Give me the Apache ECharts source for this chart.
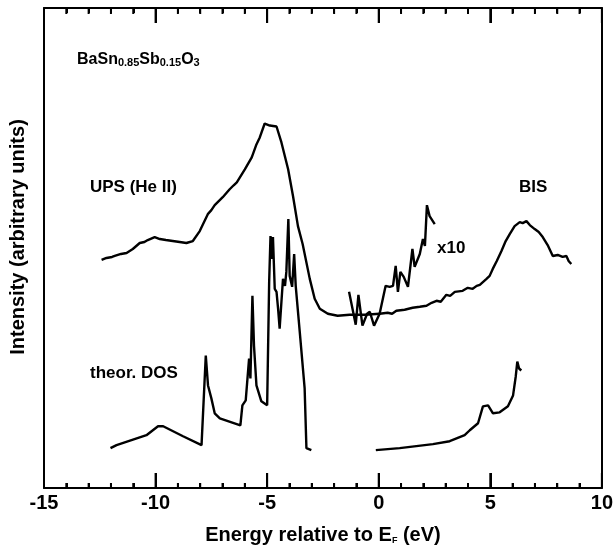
<!DOCTYPE html>
<html>
<head>
<meta charset="utf-8">
<script src="https://cdn.jsdelivr.net/npm/echarts@6/dist/echarts.min.js"></script>
<style>
  html, body { margin: 0; padding: 0; background: #fff; }
  #chart { width: 616px; height: 550px; }
</style>
</head>
<body>
<div id="chart"></div>
<script>
// energies in eV, intensities in arbitrary units (0 = bottom of frame)
const upsEnergy = [-12.42, -12.2, -11.95, -11.83, -11.55, -11.3, -11.02, -10.71, -10.5, -10.35, -10.04, -9.81, -9.54, -9.23, -8.92, -8.62, -8.33,
  -8.02, -7.66, -7.5, -7.35, -6.99, -6.68, -6.5, -6.36, -6.0, -5.69, -5.48, -5.33, -5.11, -4.88, -4.58, -4.36, -4.06, -3.84,
  -3.62, -3.41, -3.09, -2.87, -2.64, -2.28, -1.84, -1.3, -0.63, 0.04];
const upsValue = [229, 231, 232, 233, 235, 236, 240, 246, 247, 249, 252, 250, 249, 248, 247, 246, 248,
  258, 275, 279, 284, 292, 300, 304, 307, 320, 332, 345, 352, 366, 364, 363, 347, 320, 293,
  263, 245, 210, 190, 180, 175, 173, 174, 174, 175];

const bisEnergy = [0.04, 0.4, 0.6, 0.79, 1.16, 1.52, 1.84, 2.14, 2.37, 2.59, 2.78, 3.03, 3.2, 3.41, 3.76, 3.99, 4.21, 4.39, 4.53, 4.83,
  4.97, 5.11, 5.29, 5.5, 5.69, 5.87, 6.09, 6.32, 6.45, 6.62, 6.77, 6.99, 7.17, 7.35, 7.57, 7.8, 8.02, 8.24, 8.41, 8.51, 8.63];
const bisValue = [175, 176, 175, 178, 179, 181, 182, 183, 186, 188, 187, 194, 193, 197, 198, 201, 200, 203, 204, 210,
  213, 220, 228, 238, 248, 255, 263, 267, 266, 268, 264, 260, 257, 252, 244, 233, 234, 232, 233, 228, 225];

const bis10Energy = [-1.33, -1.03, -0.91, -0.73, -0.52, -0.4, -0.21, 0.04, 0.31, 0.49, 0.64, 0.76, 0.86, 0.97, 1.12, 1.31, 1.51, 1.61,
  1.84, 1.98, 2.07, 2.16, 2.28, 2.51];
const bis10Value = [197, 164, 194, 163, 175, 177, 163, 175, 203, 202, 203, 223, 197, 217, 212, 202, 240, 222,
  235, 250, 243, 284, 273, 265];

const dosVbEnergy = [-12.02, -11.75, -10.41, -9.89, -9.66, -8.77, -7.94, -7.75, -7.65, -7.5, -7.35, -7.12, -6.2, -6.11, -5.96, -5.81, -5.75,
  -5.66, -5.59, -5.48, -5.26, -5.0, -4.91, -4.85, -4.79, -4.74, -4.66, -4.58, -4.51, -4.44, -4.36, -4.29, -4.2, -4.14, -4.05,
  -3.99, -3.88, -3.79, -3.72, -3.54, -3.32, -3.24, -3.02];
const dosVbValue = [40, 43, 53, 62, 62, 52, 43, 133, 103, 90, 75, 70, 63, 83, 88, 130, 110,
  193, 143, 103, 87, 83, 207, 253, 230, 252, 200, 197, 180, 160, 187, 210, 203, 217, 270,
  213, 202, 235, 203, 157, 100, 40, 38];

const dosCbEnergy = [-0.13, 0.94, 2.43, 3.18, 3.85, 4.08, 4.45, 4.67, 4.9, 5.12, 5.42, 5.79, 6.02, 6.14, 6.21, 6.29, 6.39];
const dosCbValue = [38, 40, 44, 47, 53, 58, 65, 82, 83, 75, 76, 82, 93, 112, 127, 120, 118];

const xTicks = [-15, -10, -5, 0, 5, 10];
const xMinorTicks = [-15, -14, -13, -12, -11, -10, -9, -8, -7, -6, -5, -4, -3, -2, -1,
  0, 1, 2, 3, 4, 5, 6, 7, 8, 9, 10];

const Y_MAX = 482;
const FONT = '"Liberation Sans", Arial, sans-serif';

function pairs(xs, ys) {
    return xs.map((x, i) => [x, ys[i]]);
}

function lineSeries(xs, ys) {
    return {
        type: 'line',
        data: pairs(xs, ys),
        symbol: 'none',
        z: 3,
        lineStyle: { color: '#000', width: 2.4 }
    };
}

function frameX(pos) {
    return {
        type: 'value', min: xTicks[0], max: xTicks[xTicks.length - 1], interval: 5, position: pos, z: 10,
        axisLine: { show: true, onZero: false, lineStyle: { color: '#000', width: 2 } },
        axisTick: { show: true, inside: true, length: 15, lineStyle: { color: '#000', width: 2 } },
        minorTick: { show: true, splitNumber: 5, length: 5, lineStyle: { color: '#000', width: 2 } },
        axisLabel: { show: false },
        splitLine: { show: false }
    };
}

function frameY(pos) {
    return {
        type: 'value', min: 0, max: Y_MAX, position: pos,
        axisLine: { show: true, onZero: false, lineStyle: { color: '#000', width: 2 } },
        axisTick: { show: false }, axisLabel: { show: false }, splitLine: { show: false }
    };
}

let bottomAxis = frameX('bottom');
bottomAxis.axisLabel = { show: true, color: '#000', fontFamily: FONT, fontWeight: 'bold', fontSize: 20, margin: 5 };
bottomAxis.name = 'Energy relative to E{sub|F} (eV)';
bottomAxis.nameLocation = 'middle';
bottomAxis.nameGap = 37;
bottomAxis.nameTextStyle = {
    color: '#000', fontFamily: FONT, fontWeight: 'bold', fontSize: 20,
    rich: {
        sub: { fontFamily: FONT, fontWeight: 'bold', fontSize: 9, color: '#000', verticalAlign: 'bottom', lineHeight: 6 }
    }
};

const textGraphics = [
    {
        type: 'text', x: 18, y: 237, rotation: Math.PI / 2,
        style: { text: 'Intensity (arbitrary units)', fill: '#000', font: 'bold 20px ' + FONT, align: 'center', verticalAlign: 'middle' }
    },
    {
        type: 'text', x: 77, y: 52,
        style: {
            text: '{b|BaSn}{s|0.85}{b|Sb}{s|0.15}{b|O}{s|3}',
            fill: '#000',
            align: 'left', verticalAlign: 'top',
            rich: {
                b: { font: 'bold 16px ' + FONT, fill: '#000', verticalAlign: 'top', lineHeight: 16 },
                s: { font: 'bold 11px ' + FONT, fill: '#000', verticalAlign: 'bottom', lineHeight: 5 }
            }
        }
    },
    { type: 'text', x: 90, y: 187, style: { text: 'UPS (He II)', fill: '#000', font: 'bold 17px ' + FONT, align: 'left', verticalAlign: 'middle' } },
    { type: 'text', x: 519, y: 187, style: { text: 'BIS', fill: '#000', font: 'bold 17px ' + FONT, align: 'left', verticalAlign: 'middle' } },
    { type: 'text', x: 437, y: 248, style: { text: 'x10', fill: '#000', font: 'bold 17px ' + FONT, align: 'left', verticalAlign: 'middle' } },
    { type: 'text', x: 90, y: 373, style: { text: 'theor. DOS', fill: '#000', font: 'bold 17px ' + FONT, align: 'left', verticalAlign: 'middle' } }
];

let chart = echarts.init(document.getElementById('chart'));
chart.setOption({
    animation: false,
    backgroundColor: '#fff',
    grid: { left: 44, right: 14, top: 8, bottom: 60 },
    xAxis: [bottomAxis, frameX('top')],
    yAxis: [frameY('left'), frameY('right')],
    graphic: textGraphics,
    series: [
        lineSeries(upsEnergy, upsValue),
        lineSeries(bisEnergy, bisValue),
        lineSeries(bis10Energy, bis10Value),
        lineSeries(dosVbEnergy, dosVbValue),
        lineSeries(dosCbEnergy, dosCbValue)
    ]
});

// inward frame ticks, placed through the axis scale
let tickGraphics = [];
xMinorTicks.forEach(v => {
    const major = xTicks.indexOf(v) >= 0;
    const b = chart.convertToPixel({ xAxisIndex: 0, yAxisIndex: 0 }, [v, 0]);
    const t = chart.convertToPixel({ xAxisIndex: 0, yAxisIndex: 0 }, [v, Y_MAX]);
    tickGraphics.push({
        type: 'line', z: 100, silent: true,
        shape: { x1: b[0], y1: b[1], x2: b[0], y2: b[1] - (major ? 15 : 5) },
        style: { stroke: '#000', lineWidth: 2 }
    });
    tickGraphics.push({
        type: 'line', z: 100, silent: true,
        shape: { x1: t[0], y1: t[1], x2: t[0], y2: t[1] + (major ? 15 : 6) },
        style: { stroke: '#000', lineWidth: 2 }
    });
});
chart.setOption({ graphic: textGraphics.concat(tickGraphics) });
</script>
</body>
</html>
